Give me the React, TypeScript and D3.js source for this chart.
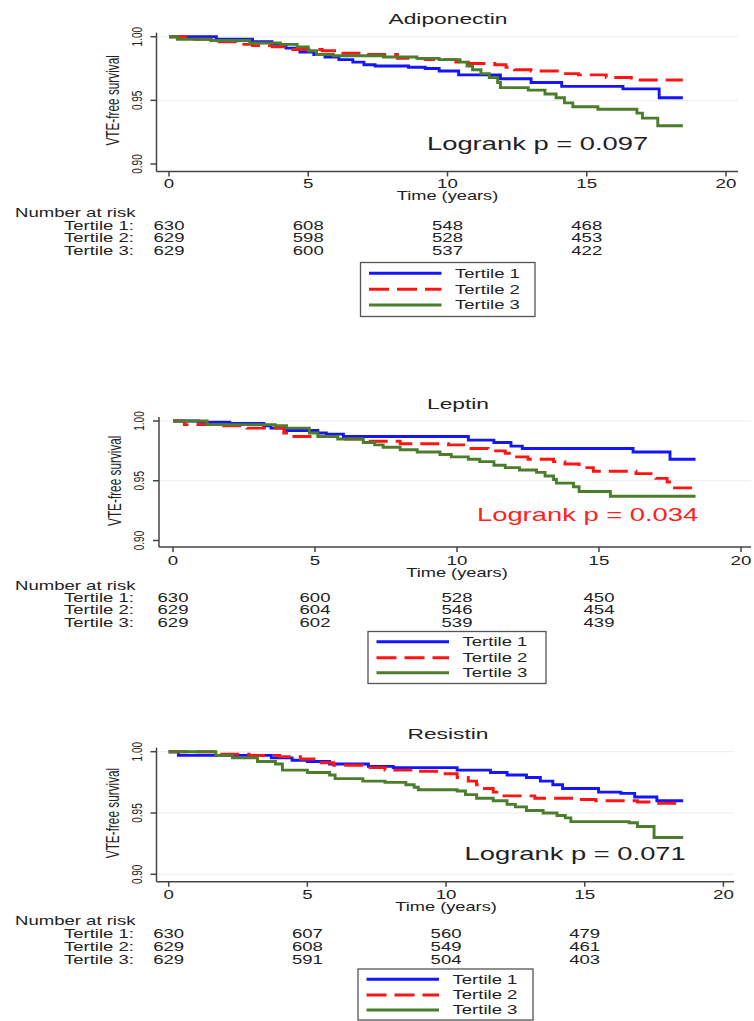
import React from "react";
import * as d3 from "d3";

type Pt = [number, number];

const FONT = "'Liberation Sans', Arial, Helvetica, sans-serif";
const SX = 1.52;

const timeTicks = [0, 5, 10, 15, 20];
const survTicks = [0.9, 0.95, 1.0];
const gridTicks = [0.95, 1.0];
const riskTimes = [0, 5, 10, 15];
const tertileLabels = ["Tertile 1", "Tertile 2", "Tertile 3"];
const seriesColors = ["#1414ff", "#ff1414", "#4b7d2b"];

// Adiponectin
const adipoT1: Pt[] = [[0,1],[1.7,0.998],[3.0,0.996],[3.7,0.994],[4.2,0.991],[4.7,0.988],[5.2,0.986],[5.6,0.984],[6.1,0.982],[6.6,0.98],[7.0,0.978],[7.4,0.977],[8.6,0.976],[9.2,0.975],[9.7,0.973],[10.4,0.97],[11.9,0.967],[13.0,0.964],[14.1,0.961],[16.3,0.959],[17.6,0.952],[18.45,0.952]];
const adipoT2: Pt[] = [[0,1],[0.6,0.998],[1.8,0.996],[2.4,0.994],[3.0,0.993],[3.7,0.992],[4.3,0.99],[5.5,0.989],[6.1,0.987],[7.0,0.986],[8.2,0.983],[9.2,0.982],[10.3,0.98],[10.75,0.979],[11.7,0.978],[12.1,0.976],[12.4,0.974],[13.0,0.973],[14.1,0.971],[14.7,0.97],[15.7,0.968],[16.6,0.966],[18.45,0.966]];
const adipoT3: Pt[] = [[0,1],[0.3,0.998],[1.5,0.997],[2.9,0.995],[4.0,0.994],[4.6,0.992],[5.0,0.989],[5.3,0.986],[5.9,0.985],[7.7,0.984],[8.9,0.983],[9.7,0.982],[10.45,0.98],[10.7,0.977],[10.9,0.974],[11.2,0.971],[11.5,0.968],[11.8,0.964],[11.9,0.96],[12.9,0.958],[13.5,0.955],[13.9,0.952],[14.2,0.948],[14.5,0.945],[15.4,0.943],[16.8,0.94],[17.0,0.936],[17.55,0.93],[18.45,0.93]];
const adipoRisk = [[630, 608, 548, 468], [629, 598, 528, 453], [629, 600, 537, 422]];

// Leptin
const leptT1: Pt[] = [[0,1],[0.9,0.999],[2.0,0.998],[3.2,0.996],[3.45,0.994],[4.0,0.992],[5.1,0.99],[5.4,0.989],[6.0,0.987],[10.4,0.984],[11.3,0.982],[11.9,0.979],[12.3,0.977],[16.2,0.974],[17.5,0.968],[18.4,0.968]];
const leptT2: Pt[] = [[0,1],[0.4,0.997],[1.5,0.996],[2.6,0.994],[3.9,0.99],[4.1,0.987],[5.9,0.985],[6.7,0.983],[8.0,0.981],[9.7,0.98],[10.4,0.977],[11.1,0.975],[11.7,0.973],[12.0,0.97],[12.5,0.968],[13.4,0.966],[13.8,0.964],[14.3,0.961],[14.8,0.958],[16.3,0.956],[17.0,0.952],[17.4,0.949],[17.6,0.944],[18.4,0.944]];
const leptT3: Pt[] = [[0,1],[1.2,0.997],[3.6,0.996],[4.0,0.994],[4.8,0.99],[5.1,0.987],[5.8,0.985],[6.7,0.982],[7.1,0.98],[7.4,0.978],[8.0,0.976],[8.6,0.974],[9.4,0.972],[9.8,0.97],[10.4,0.968],[10.8,0.966],[11.3,0.963],[11.7,0.961],[12.2,0.959],[12.8,0.957],[13.1,0.954],[13.4,0.951],[13.5,0.948],[14.1,0.945],[14.3,0.941],[15.4,0.937],[18.4,0.937]];
const leptRisk = [[630, 600, 528, 450], [629, 604, 546, 454], [629, 602, 539, 439]];

// Resistin
const resT1: Pt[] = [[0,1],[0.35,0.997],[3.7,0.995],[4.45,0.993],[5.0,0.992],[5.8,0.99],[7.2,0.988],[8.1,0.987],[10.4,0.985],[11.6,0.983],[12.2,0.981],[12.9,0.979],[13.4,0.976],[13.85,0.973],[14.2,0.97],[15.5,0.967],[16.3,0.966],[16.8,0.963],[17.6,0.96],[18.55,0.96]];
const resT2: Pt[] = [[0,1],[1.7,0.998],[2.9,0.997],[4.0,0.996],[4.75,0.994],[5.35,0.991],[5.95,0.989],[7.0,0.987],[7.8,0.985],[8.9,0.984],[9.75,0.982],[10.4,0.979],[10.8,0.976],[11.1,0.973],[11.3,0.97],[11.7,0.967],[12.0,0.964],[13.2,0.962],[14.7,0.961],[15.4,0.96],[16.9,0.959],[17.6,0.958],[18.55,0.958]];
const resT3: Pt[] = [[0,1],[1.7,0.997],[2.3,0.995],[3.2,0.992],[3.85,0.99],[4.1,0.985],[5.0,0.983],[5.8,0.981],[6.0,0.978],[7.0,0.976],[7.8,0.975],[8.55,0.973],[8.85,0.971],[9.0,0.969],[10.4,0.968],[10.7,0.965],[11.1,0.962],[11.7,0.96],[12.2,0.957],[12.5,0.955],[12.9,0.952],[13.5,0.95],[14.0,0.948],[14.3,0.946],[14.5,0.943],[16.6,0.942],[16.9,0.939],[17.5,0.93],[18.55,0.93]];
const resRisk = [[630, 607, 560, 479], [629, 608, 549, 461], [629, 591, 504, 403]];

interface Layout {
  x0: number; x20: number; yTop: number; yBot: number;
  axisX: number; axisY: number; axisRight: number;
  titleX: number; titleY: number;
  logX: number; logY: number;
  tickLabelY: number; timeY: number; narY: number; rowY: number[];
  legX: number; legY: number; legW: number; legH: number; legRows: number[];
  grid: number[];
}

const layouts: Layout[] = [
  { x0: 169, x20: 726, yTop: 36.7, yBot: 164, axisX: 156.5, axisY: 171.5, axisRight: 738,
    titleX: 448, titleY: 23.5, logX: 427, logY: 149.5, tickLabelY: 187.5, timeY: 200,
    narY: 217, rowY: [229.5, 242, 254.5], legX: 360.5, legY: 262.5, legW: 174.5, legH: 54, legRows: [273.3, 289.3, 305], grid: gridTicks },
  { x0: 173, x20: 741, yTop: 421, yBot: 540.5, axisX: 159, axisY: 547, axisRight: 751,
    titleX: 458, titleY: 408.5, logX: 477, logY: 520.5, tickLabelY: 564.5, timeY: 577,
    narY: 589.5, rowY: [601.5, 614, 626.5], legX: 368, legY: 631.5, legW: 178, legH: 52, legRows: [641.7, 657.7, 672.7], grid: gridTicks },
  { x0: 168.7, x20: 723.4, yTop: 751.7, yBot: 874.3, axisX: 156.5, axisY: 881.7, axisRight: 734,
    titleX: 448, titleY: 738.5, logX: 464.6, logY: 859.8, tickLabelY: 898.5, timeY: 911,
    narY: 925, rowY: [937.5, 951, 963.5], legX: 358, legY: 969, legW: 175, legH: 51, legRows: [979.3, 995, 1010], grid: [0.9, 0.95, 1.0] },
];

const TEXT = "#222";

function T(props: { x: number; y: number; size: number; anchor?: string; fill?: string; rotate?: boolean; children: React.ReactNode }) {
  const { x, y, size, anchor = "start", fill = TEXT, rotate = false, children } = props;
  const tr = rotate
    ? `translate(${x},${y}) scale(${SX},1) rotate(-90)`
    : `translate(${x},${y}) scale(${SX},1)`;
  return (
    <text transform={tr} fontSize={size} textAnchor={anchor as any} fill={fill} fontFamily={FONT}>
      {children}
    </text>
  );
}

function Panel(props: { title: string; series: Pt[][]; risk: number[][]; logrank: string; logColor: string; L: Layout }) {
  const { title, series, risk, logrank, logColor, L } = props;
  const x = d3.scaleLinear().domain([0, 20]).range([L.x0, L.x20]);
  const y = d3.scaleLinear().domain([0.9, 1.0]).range([L.yBot, L.yTop]);
  const line = d3.line<Pt>().x(d => x(d[0])).y(d => y(d[1])).curve(d3.curveStepAfter);
  const axisColor = "#444";
  return (
    <g>
      {L.grid.map(v => (
        <line key={"g" + v} x1={L.axisX} x2={L.axisRight} y1={y(v)} y2={y(v)} stroke="#e6eff1" strokeWidth={1} />
      ))}
      {series.map((s, i) => (
        <path key={"s" + i} d={line(s) || ""} fill="none" stroke={seriesColors[i]} strokeWidth={2.9}
          strokeDasharray={i === 1 ? "19 8" : undefined} strokeLinejoin="miter" />
      ))}
      <line x1={L.axisX} x2={L.axisX} y1={L.yTop - 4} y2={L.axisY} stroke={axisColor} strokeWidth={1.5} />
      <line x1={L.axisX} x2={L.axisRight} y1={L.axisY} y2={L.axisY} stroke={axisColor} strokeWidth={1.5} />
      {survTicks.map(v => (
        <g key={"yt" + v}>
          <line x1={L.axisX - 6} x2={L.axisX} y1={y(v)} y2={y(v)} stroke={axisColor} strokeWidth={1.5} />
          <T x={L.axisX - 15} y={y(v)} size={10} anchor="middle" rotate>{d3.format(".2f")(v)}</T>
        </g>
      ))}
      {timeTicks.map(v => (
        <g key={"xt" + v}>
          <line x1={x(v)} x2={x(v)} y1={L.axisY} y2={L.axisY + 5} stroke={axisColor} strokeWidth={1.5} />
          <T x={x(v)} y={L.tickLabelY} size={12.3} anchor="middle">{String(v)}</T>
        </g>
      ))}
      <T x={L.axisX - 38} y={(L.yTop + L.yBot) / 2} size={11.8} anchor="middle" rotate>VTE-free survival</T>
      <T x={x(10)} y={L.timeY} size={12} anchor="middle">Time (years)</T>
      <T x={L.titleX} y={L.titleY} size={15} anchor="middle">{title}</T>
      <T x={L.logX} y={L.logY} size={18} fill={logColor}>{logrank}</T>
      <T x={15} y={L.narY} size={12.2}>Number at risk</T>
      {risk.map((row, i) => (
        <g key={"r" + i}>
          <T x={134} y={L.rowY[i]} size={12.2} anchor="end">{tertileLabels[i] + ":"}</T>
          {row.map((n, j) => (
            <T key={j} x={x(riskTimes[j])} y={L.rowY[i]} size={12.2} anchor="middle">{String(n)}</T>
          ))}
        </g>
      ))}
      <rect x={L.legX} y={L.legY} width={L.legW} height={L.legH} fill="#fff" stroke="#555" strokeWidth={1.3} />
      {tertileLabels.map((lab, i) => (
        <g key={"l" + i}>
          <line x1={L.legX + 8.5} x2={L.legX + 81} y1={L.legRows[i]} y2={L.legRows[i]} stroke={seriesColors[i]} strokeWidth={2.9}
            strokeDasharray={i === 1 ? "20 8" : undefined} />
          <T x={L.legX + 94.5} y={L.legRows[i] + 4.4} size={12.2}>{lab}</T>
        </g>
      ))}
    </g>
  );
}

export default function App() {
  return (
    <svg width={754} height={1021} style={{ position: "absolute", left: 0, top: 0, background: "#fff" }}>
      <rect x={0} y={0} width={754} height={1021} fill="#fff" />
      <Panel title="Adiponectin" series={[adipoT1, adipoT2, adipoT3]} risk={adipoRisk} logrank="Logrank p = 0.097" logColor={TEXT} L={layouts[0]} />
      <Panel title="Leptin" series={[leptT1, leptT2, leptT3]} risk={leptRisk} logrank="Logrank p = 0.034" logColor="#ff2020" L={layouts[1]} />
      <Panel title="Resistin" series={[resT1, resT2, resT3]} risk={resRisk} logrank="Logrank p = 0.071" logColor={TEXT} L={layouts[2]} />
    </svg>
  );
}
